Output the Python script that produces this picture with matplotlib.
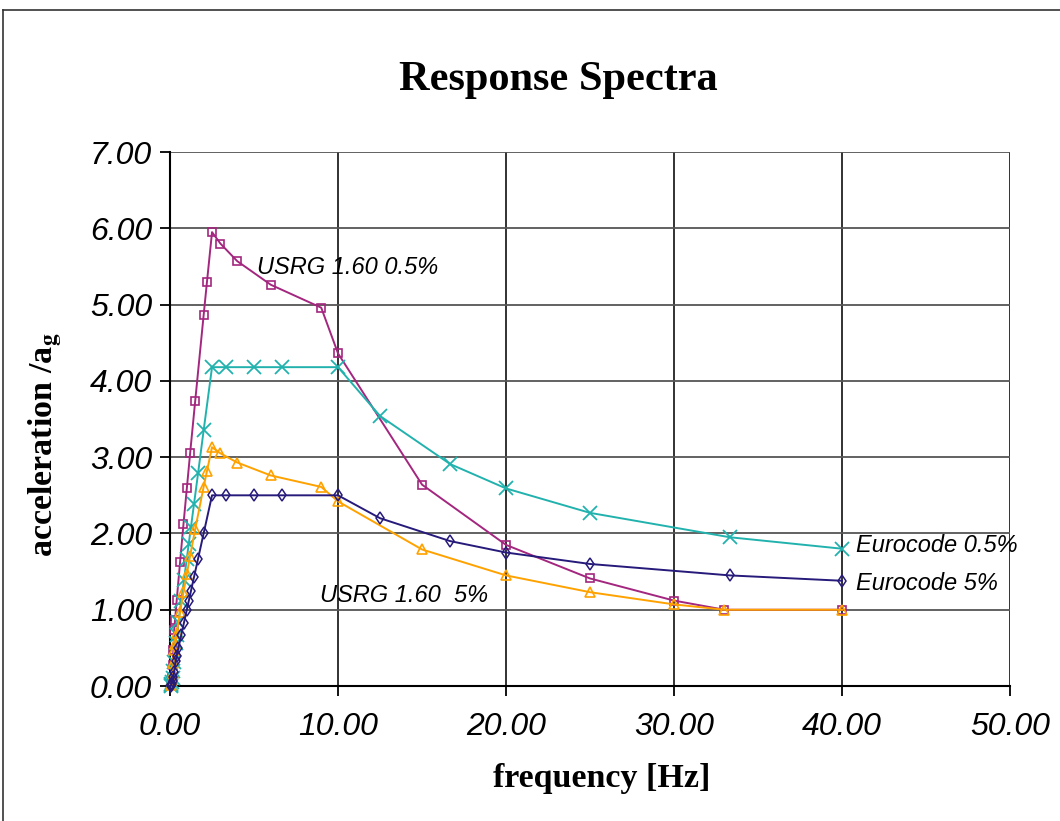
import numpy as np
import matplotlib
matplotlib.use('Agg')
from matplotlib import pyplot as plt
from matplotlib.lines import Line2D
from matplotlib.ticker import FormatStrFormatter

plt.rcParams['mathtext.fontset'] = 'stix'

# Eurocode spectra (frequency in Hz, acceleration / ag)
ec_freq = [40, 33.33, 25, 20, 16.67, 12.5, 10, 6.67, 5, 3.33, 2.5, 2.0, 1.67, 1.43,
           1.25, 1.11, 1.0, 0.83, 0.67, 0.5, 0.4, 0.33, 0.25, 0.2, 0.15, 0.1,
           0.07, 0.05, 0.03]
ec_05 = [1.80, 1.95, 2.27, 2.59, 2.91, 3.54, 4.18, 4.18, 4.18, 4.18, 4.18, 3.35, 2.79, 2.39,
         2.09, 1.86, 1.67, 1.39, 1.12, 0.84, 0.67, 0.56, 0.31, 0.20, 0.11, 0.05,
         0.025, 0.013, 0.005]
ec_5 = [1.38, 1.45, 1.60, 1.75, 1.90, 2.20, 2.50, 2.50, 2.50, 2.50, 2.50, 2.00, 1.67, 1.43,
        1.25, 1.11, 1.00, 0.83, 0.67, 0.50, 0.40, 0.33, 0.19, 0.12, 0.07, 0.03,
        0.015, 0.008, 0.003]

# USNRC RG 1.60 spectra
us_freq = [40, 33, 30, 25, 20, 15, 10, 9, 6, 4, 3, 2.5, 2.2, 2.0, 1.5, 1.2, 1.0,
           0.8, 0.6, 0.4, 0.3, 0.25, 0.2, 0.15, 0.1, 0.05]
us_05 = [1.00, 1.00, 1.12, 1.41, 1.85, 2.64, 4.36, 4.96, 5.26, 5.57, 5.80, 5.95, 5.30, 4.86,
         3.74, 3.06, 2.59, 2.12, 1.63, 1.13, 0.87, 0.74, 0.47, 0.27, 0.12, 0.03]
us_5 = [1.00, 1.00, 1.07, 1.23, 1.45, 1.79, 2.42, 2.61, 2.76, 2.93, 3.05, 3.13, 2.82, 2.61,
        2.06, 1.71, 1.47, 1.23, 0.97, 0.69, 0.55, 0.47, 0.30, 0.17, 0.08, 0.02]

fig = plt.figure(figsize=(10.6, 8.21), dpi=100)
ax = fig.add_axes([0.1604, 0.1644, 0.7925, 0.6504])

ax.plot(us_freq, us_05, color='#a3267f', lw=1.4, marker='s', ms=6, mfc='none', mew=1.2,
        zorder=3, clip_on=False)
ax.plot(ec_freq, ec_05, color='#22b2ae', lw=1.4, marker='x', ms=10, mew=1.3,
        zorder=3, clip_on=False)
ax.plot(us_freq, us_5, color='#ffa200', lw=1.4, marker='^', ms=7, mfc='none', mew=1.2,
        zorder=3, clip_on=False)
ax.plot(ec_freq, ec_5, color='#261a7a', lw=1.4, marker='d', ms=6, mfc='none', mew=1.1,
        zorder=3, clip_on=False)

ax.set_xlim(0, 50)
ax.set_ylim(0, 7)
ax.set_xticks(np.arange(0, 51, 10))
ax.set_yticks(np.arange(0, 7.1, 1))
ax.xaxis.set_major_formatter(FormatStrFormatter('%.2f'))
ax.yaxis.set_major_formatter(FormatStrFormatter('%.2f'))
ax.grid(True, color='#222222', lw=1.3)
ax.yaxis.grid(True, color='#555555', lw=1.3)
ax.set_axisbelow(True)
for s in ['top', 'right']:
    ax.spines[s].set_visible(False)
for s in ['left', 'bottom']:
    ax.spines[s].set_linewidth(1.5)
ax.tick_params(length=7, width=1.3)
ax.tick_params(axis='x', pad=12)
ax.tick_params(axis='y', pad=6)
for lab in ax.get_xticklabels() + ax.get_yticklabels():
    lab.set_family('Liberation Sans')
    lab.set_style('italic')
    lab.set_fontsize(23)

fig.text(0.527, 0.903, 'Response Spectra', ha='center', va='center',
         family='Liberation Serif', weight='bold', fontsize=30.5)
fig.text(0.568, 0.052, 'frequency [Hz]', ha='center', va='center',
         family='Liberation Serif', weight='bold', fontsize=24.5)
fig.text(0.043, 0.458, r'acceleration /a$_{\mathbf{g}}$', ha='center', va='center',
         rotation=90, family='Liberation Serif', weight='bold', fontsize=24.5)

ann = dict(family='Liberation Sans', style='italic', fontsize=17, va='center', ha='left')
ax.text(5.2, 5.49, 'USRG 1.60 0.5%', **ann)
ax.text(8.9, 1.19, 'USRG 1.60  5%', **ann)
ax.text(40.8, 1.84, 'Eurocode 0.5%', **ann)
ax.text(40.8, 1.35, 'Eurocode 5%', **ann)

# figure frame
fig.add_artist(Line2D([3 / 1060, 3 / 1060], [0, 1 - 10 / 821], color='#333333', lw=1.2))
fig.add_artist(Line2D([3 / 1060, 1], [1 - 10 / 821, 1 - 10 / 821], color='#333333', lw=1.2))

fig.savefig('out.png', dpi=100)
